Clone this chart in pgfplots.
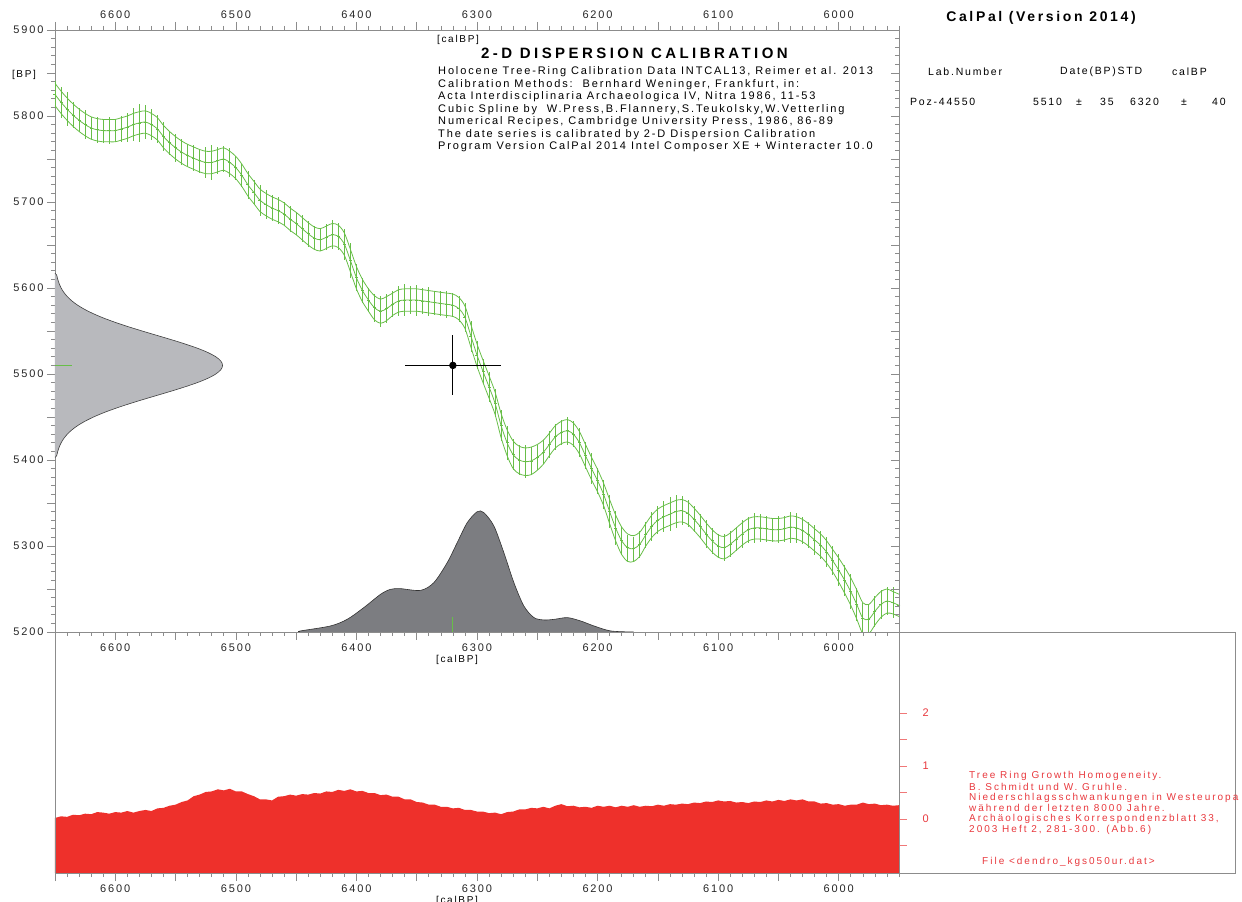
\documentclass[border=0pt]{standalone}
\usepackage{fontspec}
\setmainfont{Liberation Sans}
\newfontfamily\cp{Liberation Sans}[LetterSpace=17]
\newfontfamily\cpt{Liberation Sans}[LetterSpace=23]
\newfontfamily\cph{Liberation Sans}[LetterSpace=19]
\newfontfamily\cpr{Liberation Sans}[LetterSpace=20]
\usepackage{pgfplots}
\usepackage{pgfplotstable}
\pgfplotsset{compat=1.18}

\definecolor{calgreen}{RGB}{104,190,72}
\definecolor{axgray}{RGB}{140,140,140}
\definecolor{lightgaus}{RGB}{184,185,189}
\definecolor{darkgaus}{RGB}{124,125,129}
\definecolor{growthred}{RGB}{238,48,43}
\definecolor{labred}{RGB}{232,56,61}
\definecolor{tickred}{RGB}{240,120,120}

% INTCAL13 curve section: year, BP, band half width, bar half length
\pgfplotstableread{
year bp s e
6650 5825 13 16
6645 5816 13 18
6640 5808 13 20
6635 5801 13 15
6630 5795 13 14
6625 5790 13 17
6620 5786 13 13
6615 5784 13 15
6610 5783 13 14
6605 5783 13 16
6600 5783 13 13
6595 5785 13 15
6590 5787 13 17
6585 5790 13 19
6580 5792 13 22
6575 5793 13 20
6570 5790 13 18
6565 5785 13 16
6560 5776 13 17
6555 5769 13 14
6550 5763 13 16
6545 5758 13 15
6540 5754 13 13
6535 5751 13 15
6530 5748 13 14
6525 5746 13 18
6520 5746 13 20
6515 5748 13 16
6510 5750 13 15
6505 5746 13 17
6500 5740 13 14
6495 5731 13 13
6490 5720 13 16
6485 5711 13 15
6480 5702 13 18
6475 5697 13 17
6470 5693 13 15
6465 5690 13 16
6460 5686 13 14
6455 5680 13 15
6450 5675 13 13
6445 5669 13 16
6440 5663 13 15
6435 5658 13 14
6430 5656 13 13
6425 5659 13 15
6420 5662 13 17
6415 5660 13 16
6410 5651 13 18
6405 5632 13 20
6400 5612 13 16
6395 5597 13 15
6390 5586 13 14
6385 5577 14 16
6380 5573 14 18
6375 5576 14 17
6370 5581 13 15
6365 5585 13 17
6360 5586 13 19
6355 5586 13 16
6350 5586 13 18
6345 5585 13 15
6340 5584 13 17
6335 5583 13 14
6330 5582 13 15
6325 5581 13 16
6320 5580 13 14
6315 5576 13 15
6310 5566 13 17
6305 5544 13 18
6300 5522 13 16
6295 5503 13 15
6290 5485 13 17
6285 5466 13 16
6280 5440 14 18
6275 5420 15 20
6270 5406 16 18
6265 5400 16 17
6260 5398 16 19
6255 5399 16 16
6250 5403 15 15
6245 5409 14 14
6240 5418 13 16
6235 5427 13 15
6230 5432 13 14
6225 5434 13 16
6220 5430 13 15
6215 5420 13 17
6210 5405 13 16
6205 5390 13 18
6200 5376 13 15
6195 5360 13 17
6190 5340 14 19
6185 5321 15 20
6180 5306 16 16
6175 5298 16 15
6170 5297 15 14
6165 5302 14 16
6160 5313 13 15
6155 5323 13 17
6150 5330 13 16
6145 5334 13 18
6140 5337 13 20
6135 5340 13 19
6130 5341 13 17
6125 5338 13 16
6120 5331 13 15
6115 5323 13 14
6110 5314 13 16
6105 5306 13 15
6100 5300 13 14
6095 5298 13 16
6090 5302 13 15
6085 5308 13 14
6080 5314 13 16
6075 5319 13 15
6070 5321 13 17
6065 5321 13 16
6060 5320 13 15
6055 5319 13 14
6050 5319 13 16
6045 5320 13 15
6040 5322 13 18
6035 5321 13 17
6030 5318 13 16
6025 5313 13 15
6020 5307 13 17
6015 5301 13 16
6010 5293 13 18
6005 5283 13 17
6000 5272 14 19
5995 5260 15 18
5990 5247 16 20
5985 5232 17 19
5980 5216 18 18
5975 5215 17 17
5970 5224 16 18
5965 5232 15 17
5960 5236 14 16
5955 5234 13 18
5950 5231 13 15
}\curve

% 14C date 5510 +- 35 BP, shown on the BP axis
\pgfplotstableread{
x y
6650.0 5403
6648.6 5405
6647.7 5410
6646.5 5415
6644.9 5420
6642.7 5425
6639.8 5430
6636.0 5435
6631.2 5440
6625.2 5445
6618.0 5450
6609.6 5455
6599.9 5460
6589.2 5465
6577.7 5470
6565.7 5475
6553.7 5480
6542.3 5485
6531.9 5490
6523.2 5495
6516.6 5500
6512.4 5505
6511.0 5510
6512.4 5515
6516.6 5520
6523.2 5525
6531.9 5530
6542.3 5535
6553.7 5540
6565.7 5545
6577.7 5550
6589.2 5555
6599.9 5560
6609.6 5565
6618.0 5570
6625.2 5575
6631.2 5580
6636.0 5585
6639.8 5590
6642.7 5595
6644.9 5600
6646.5 5605
6647.7 5610
6648.6 5615
6650.0 5617
}\datebp

% calibrated probability distribution on the calBP axis
\pgfplotstableread{
x y
6447.0 5200.0
6446.5 5201.2
6421.6 5207.0
6407.7 5214.7
6393.9 5228.3
6380.0 5243.8
6371.8 5249.6
6363.5 5250.4
6346.8 5248.4
6335.8 5257.4
6324.7 5280.6
6316.4 5303.9
6308.1 5327.1
6299.8 5339.9
6294.3 5338.8
6286.0 5323.3
6277.7 5292.2
6269.4 5257.4
6261.1 5230.2
6252.7 5216.7
6244.4 5214.0
6236.1 5214.7
6225.0 5216.7
6214.0 5212.8
6202.9 5207.0
6189.0 5201.2
6170.0 5200.0
}\calprob

% tree ring growth homogeneity
\pgfplotstableread{
x y
6650 0.02
6645 0.05
6640 0.04
6635 0.08
6630 0.07
6625 0.10
6620 0.09
6615 0.13
6610 0.12
6605 0.10
6600 0.13
6595 0.12
6590 0.15
6585 0.12
6580 0.15
6575 0.17
6570 0.15
6565 0.20
6560 0.21
6555 0.25
6550 0.27
6545 0.32
6540 0.35
6535 0.43
6530 0.46
6525 0.51
6520 0.52
6515 0.56
6510 0.54
6505 0.57
6500 0.52
6495 0.52
6490 0.47
6485 0.43
6480 0.37
6475 0.37
6470 0.35
6465 0.42
6460 0.43
6455 0.46
6450 0.44
6445 0.47
6440 0.46
6435 0.49
6430 0.48
6425 0.52
6420 0.51
6415 0.55
6410 0.53
6405 0.56
6400 0.52
6395 0.53
6390 0.49
6385 0.49
6380 0.45
6375 0.46
6370 0.42
6365 0.42
6360 0.37
6355 0.37
6350 0.32
6345 0.31
6340 0.27
6335 0.27
6330 0.23
6325 0.23
6320 0.20
6315 0.21
6310 0.17
6305 0.17
6300 0.14
6295 0.14
6290 0.11
6285 0.12
6280 0.09
6275 0.13
6270 0.14
6265 0.18
6260 0.18
6255 0.21
6250 0.20
6245 0.23
6240 0.20
6235 0.25
6230 0.28
6225 0.24
6220 0.25
6215 0.22
6210 0.23
6205 0.21
6200 0.25
6195 0.23
6190 0.25
6185 0.22
6180 0.25
6175 0.23
6170 0.26
6165 0.23
6160 0.25
6155 0.24
6150 0.27
6145 0.25
6140 0.28
6135 0.27
6130 0.29
6125 0.28
6120 0.31
6115 0.30
6110 0.33
6105 0.32
6100 0.35
6095 0.33
6090 0.34
6085 0.31
6080 0.32
6075 0.30
6070 0.33
6065 0.32
6060 0.35
6055 0.33
6050 0.36
6045 0.34
6040 0.37
6035 0.35
6030 0.37
6025 0.33
6020 0.33
6015 0.29
6010 0.30
6005 0.27
6000 0.28
5995 0.25
5990 0.27
5985 0.27
5980 0.31
5975 0.28
5970 0.29
5965 0.26
5960 0.27
5955 0.25
5950 0.26
5950 -1.02
6650 -1.02
}\growth

\pgfplotsset{
  calaxis/.style={
    anchor=south west, scale only axis, width=844pt,
    xmin=5950, xmax=6650, x dir=reverse,
    axis line style={axgray, line width=0.8pt},
    every tick/.style={axgray, line width=0.6pt},
    major tick length=8pt, minor tick length=4pt,
    xtick distance=100, minor x tick num=9,
    tick label style={font=\cp\fontsize{11}{13}\selectfont, text=black!85},
    /pgf/number format/assume math mode=true,
    /pgf/number format/set thousands separator={},
  },
}

\begin{document}
\begin{tikzpicture}[x=1pt, y=1pt]
\useasboundingbox (0,0) rectangle (1242,902);

% ---------- calibration panel ----------
\begin{axis}[calaxis, at={(55pt,270pt)}, height=602pt,
  ymin=5200, ymax=5900, ytick distance=100, minor y tick num=9,
  xtick pos=left, ytick pos=left, tick align=outside,
  extra x ticks={6050,6150,...,6650}, extra x tick labels={},
  extra y ticks={5250,5350,...,5850}, extra y tick labels={},
]
  \addplot[fill=lightgaus, draw=none] table[x=x, y=y] {\datebp} -- cycle;
  \addplot[black!75, line width=0.6pt, smooth] table[x=x, y=y] {\datebp};
  \addplot[fill=darkgaus, draw=none, smooth] table[x=x, y=y] {\calprob} -- cycle;
  \addplot[black!80, line width=0.6pt, smooth] table[x=x, y=y] {\calprob};

  \addplot[calgreen, line width=0.8pt, smooth] table[x=year, y expr=\thisrow{bp}+\thisrow{s}] {\curve};
  \addplot[calgreen, line width=0.8pt, smooth] table[x=year, y=bp] {\curve};
  \addplot[calgreen, line width=0.8pt, smooth] table[x=year, y expr=\thisrow{bp}-\thisrow{s}] {\curve};
  \addplot[calgreen, line width=0.7pt, only marks, mark=-, mark size=1.5pt,
    error bars/.cd, y dir=both, y explicit, error mark=none,
    error bar style={calgreen, line width=0.8pt}]
    table[x=year, y=bp, y error=e] {\curve};

  \addplot[calgreen, line width=0.8pt] coordinates {(6650,5510) (6636,5510)};
  \addplot[calgreen, line width=0.8pt] coordinates {(6320,5200) (6320,5217)};

  \addplot[black, line width=0.8pt, mark=*, mark size=3.3pt,
    error bars/.cd, x dir=both, x explicit, y dir=both, y explicit, error mark=none,
    error bar style={black, line width=0.8pt}]
    coordinates {(6320,5510) +- (40,35)};
\end{axis}

% top calBP scale
\begin{axis}[calaxis, at={(55pt,270pt)}, height=602pt,
  ymin=5200, ymax=5900, axis x line*=top, axis y line=none,
  xtick pos=right, tick align=outside,
  extra x ticks={6050,6150,...,6650}, extra x tick labels={},
]
\end{axis}

% inner ticks on the right side
\begin{axis}[calaxis, at={(55pt,270pt)}, height=602pt,
  ymin=5200, ymax=5900, axis y line*=right, axis x line=none,
  ytick distance=100, minor y tick num=9, yticklabels={},
  ytick pos=right, tick align=inside,
  extra y ticks={5250,5350,...,5850}, extra y tick labels={},
]
\end{axis}

% ---------- growth homogeneity panel ----------
\begin{axis}[calaxis, at={(55pt,29pt)}, height=241pt,
  ymin=-1.02, ymax=3.53, axis on top,
  xtick pos=left, tick align=outside,
  extra x ticks={6050,6150,...,6650}, extra x tick labels={},
  ytick={-0.5,0,0.5,1,1.5,2}, yticklabels={,0,,1,,2},
  ytick pos=right, yticklabel pos=right,
  y tick style={tickred, line width=0.6pt},
  yticklabel style={text=labred, xshift=12pt},
]
  \addplot[fill=growthred, draw=none] table[x=x, y=y] {\growth} -- cycle;
\end{axis}

% frame of the reference box
\draw[axgray, line width=0.8pt] (899,270) -- (1235,270) -- (1235,29) -- (899,29);

% axis captions
\node[font=\cp\fontsize{10}{12}\selectfont] at (458,862) {[calBP]};
\node[font=\cp\fontsize{10}{12}\selectfont] at (457,242) {[calBP]};
\node[font=\cp\fontsize{10}{12}\selectfont] at (457,1) {[calBP]};
\node[font=\cp\fontsize{10}{12}\selectfont] at (24,827) {[BP]};

% program header
\node[anchor=west, inner sep=0, font=\cpt\bfseries\fontsize{15}{17}\selectfont] at (481,849) {2-D DISPERSION CALIBRATION};
\begin{scope}[every node/.style={anchor=west, inner sep=0, font=\cp\fontsize{11}{13}\selectfont}]
  \node at (438,830) {Holocene Tree-Ring Calibration Data INTCAL13, Reimer et al. 2013};
  \node at (438,817.5) {Calibration Methods:\ \ Bernhard Weninger, Frankfurt, in:};
  \node at (438,805) {Acta Interdisciplinaria Archaeologica IV, Nitra 1986, 11-53};
  \node at (438,792.5) {Cubic Spline by\ \ W.Press,B.Flannery,S.Teukolsky,W.Vetterling};
  \node at (438,780) {Numerical Recipes, Cambridge University Press, 1986, 86-89};
  \node at (438,767.5) {The date series is calibrated by 2-D Dispersion Calibration};
  \node at (438,755) {Program Version CalPal 2014 Intel Composer XE + Winteracter 10.0};
\end{scope}

% sample table
\node[font=\cph\bfseries\fontsize{14}{16}\selectfont] at (1041,884) {CalPal (Version 2014)};
\begin{scope}[every node/.style={anchor=west, inner sep=0, font=\cp\fontsize{10.5}{12}\selectfont}]
  \node at (928,830) {Lab.Number};
  \node at (1060,830) {Date(BP)STD};
  \node at (1172,830) {calBP};
  \node at (910,800) {Poz-44550};
  \node at (1033,800) {5510};
  \node at (1076,800) {\symbol{"00B1}};
  \node at (1100,800) {35};
  \node at (1130,800) {6320};
  \node at (1181,800) {\symbol{"00B1}};
  \node at (1212,800) {40};
\end{scope}

% growth reference
\begin{scope}[every node/.style={anchor=west, inner sep=0, text=labred, font=\cpr\fontsize{10}{11}\selectfont}]
  \node at (969,126) {Tree Ring Growth Homogeneity.};
  \node at (969,115) {B. Schmidt und W. Gruhle.};
  \node at (969,104) {Niederschlagsschwankungen in Westeuropa};
  \node at (969,94) {während der letzten 8000 Jahre.};
  \node at (969,83) {Archäologisches Korrespondenzblatt 33,};
  \node at (969,72) {2003 Heft 2, 281-300. (Abb.6)};
  \node at (982,40) {File <dendro\_kgs050ur.dat>};
\end{scope}
\end{tikzpicture}
\end{document}
